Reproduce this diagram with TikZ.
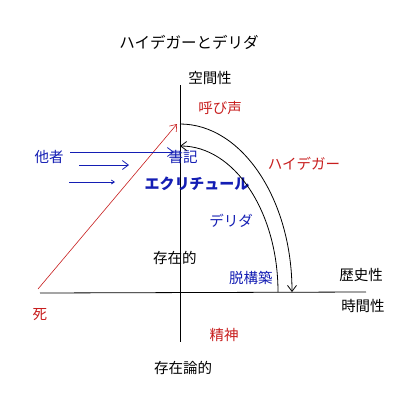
\documentclass[tikz,border=0pt]{standalone}
\usepackage{fontspec}
\setmainfont{Noto Sans CJK JP}
\usetikzlibrary{arrows.meta}
\definecolor{myblue}{RGB}{20,30,180}
\definecolor{myred}{RGB}{200,30,30}
\begin{document}
\begin{tikzpicture}[x=1pt,y=-1pt,
  lbl/.style={inner sep=0pt,font=\fontsize{14.5}{15}\selectfont},
  bl/.style={lbl,text=myblue},
  rd/.style={lbl,text=myred},
  ln/.style={line width=0.8pt},
  barb/.style={-{Straight Barb[length=6pt,width=9pt]}}]
\useasboundingbox[fill=white] (0,0) rectangle (400,400);
% axes
\coordinate (vt) at (180,85);
\coordinate (vb) at (180,342);
\coordinate (hl) at (40,293);
\coordinate (hr) at (366,292);
\draw[ln] (vt) -- (vb);
\draw[ln] (hl) -- (hr);
% labels
\node[lbl,font=\fontsize{15.5}{16}\selectfont] (title) at (189,42) {ハイデガーとデリダ};
\node[lbl] (kukan) at (210,78) {空間性};
\node[rd] (yobi) at (220,108) {呼び声};
\node[bl] (tasha) at (49,157) {他者};
\node[bl] (shoki) at (183,157) {書記};
\node[bl,font=\bfseries\fontsize{15}{16}\selectfont] (ecri) at (197,184) {エクリチュール};
\node[rd] (heid) at (304,164) {ハイデガー};
\node[bl] (derr) at (231,221) {デリダ};
\node[lbl] (sonzai) at (175,258) {存在的};
\node[bl] (datsu) at (251,278) {脱構築};
\node[lbl] (reki) at (361,275) {歴史性};
\node[lbl] (jikan) at (363,306) {時間性};
\node[rd] (shi) at (40,315) {死};
\node[rd] (seishin) at (224,335) {精神};
\node[lbl] (ron) at (183,368) {存在論的};
% red arrow from death
\coordinate (s0) at (38,289);
\coordinate (s1) at (177,124);
\draw[myred,line width=0.6pt,barb] (s0) -- (s1);
% arcs
\coordinate (oa) at (180,124);
\draw[ln,barb] (oa) arc[start angle=90,end angle=0,x radius=112pt,y radius=168pt];
\coordinate (ia) at (278,292);
\draw[ln,barb] (ia) arc[start angle=0,end angle=90,x radius=98pt,y radius=146pt];
% blue arrows from other
\coordinate (b1s) at (70,152);
\coordinate (b1e) at (174,152);
\coordinate (b2s) at (79,165);
\coordinate (b2e) at (129,165);
\coordinate (b3s) at (69,182);
\coordinate (b3e) at (115,182);
\draw[myblue,ln,barb] (b1s) -- (b1e);
\draw[myblue,ln,barb] (b2s) -- (b2e);
\draw[myblue,ln,-{Straight Barb[length=3pt,width=4pt]}] (b3s) -- (b3e);
\end{tikzpicture}
\end{document}
